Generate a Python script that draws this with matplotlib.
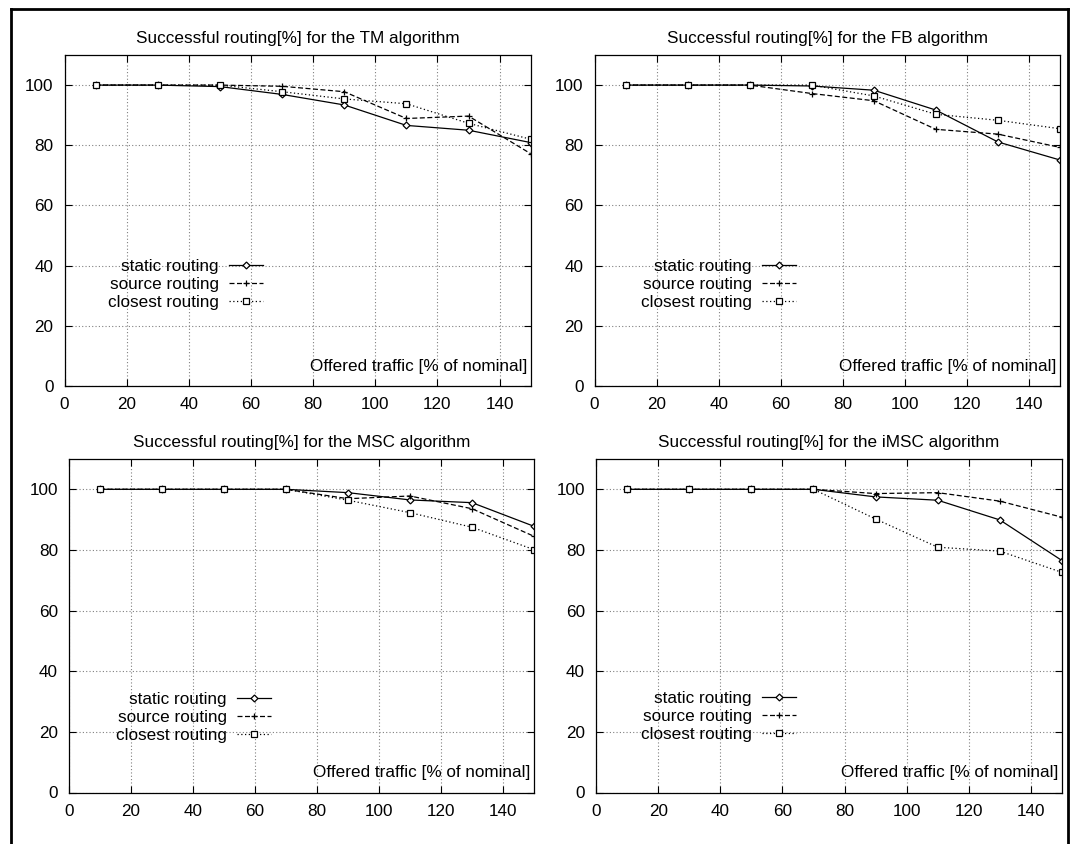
import matplotlib
matplotlib.use("Agg")
import matplotlib.pyplot as plt
from matplotlib.lines import Line2D

plt.rcParams['font.family'] = ['Liberation Sans', 'DejaVu Sans']

traffic = [10, 30, 50, 70, 90, 110, 130, 150]

tm_static = [100, 100, 99.5, 96.9, 93.4, 86.6, 85.0, 80.9]
tm_source = [100, 100, 100, 99.6, 97.8, 88.9, 89.7, 77.2]
tm_closest = [100, 100, 100, 97.8, 95.4, 93.8, 87.3, 82.0]

fb_static = [100, 100, 100, 99.7, 98.3, 91.7, 81.1, 75.1]
fb_source = [100, 100, 100, 97.2, 94.8, 85.3, 83.7, 79.3]
fb_closest = [100, 100, 100, 100, 96.4, 90.3, 88.3, 85.5]

msc_static = [100, 100, 100, 100, 98.9, 96.5, 95.6, 87.8]
msc_source = [100, 100, 100, 100, 96.9, 97.8, 93.6, 84.5]
msc_closest = [100, 100, 100, 100, 96.4, 92.3, 87.5, 80.1]

imsc_static = [100, 100, 100, 100, 97.5, 96.4, 89.9, 76.5]
imsc_source = [100, 100, 100, 100, 98.6, 98.9, 96.1, 90.8]
imsc_closest = [100, 100, 100, 100, 90.2, 80.9, 79.6, 72.6]

titles = ["Successful routing[%] for the TM algorithm",
          "Successful routing[%] for the FB algorithm",
          "Successful routing[%] for the MSC algorithm",
          "Successful routing[%] for the iMSC algorithm"]
series_labels = ["static routing", "source routing", "closest routing"]
xlabel = "Offered traffic [% of nominal]"
xticks = [0, 20, 40, 60, 80, 100, 120, 140]
yticks = [0, 20, 40, 60, 80, 100]

panels = [
    (tm_static, tm_source, tm_closest),
    (fb_static, fb_source, fb_closest),
    (msc_static, msc_source, msc_closest),
    (imsc_static, imsc_source, imsc_closest),
]

W, H = 1070, 844
fig = plt.figure(figsize=(W / 100, H / 100), dpi=100)

# axes boxes in pixels: left, top, right, bottom
boxes = [
    (64.5, 55, 530.7, 386),
    (594.5, 55, 1060, 386),
    (69, 459, 534, 792.5),
    (596, 459, 1062, 792.5),
]
# legend anchor (pixel x of right end of samples, pixel y of first row top)
leg_anchor = [
    (263, 259),
    (796, 259),
    (271, 692),
    (796, 691),
]

styles = [
    dict(linestyle='-', marker='D', markersize=3.5, markerfacecolor='white'),
    dict(linestyle=(0, (4, 2)), marker='+', markersize=5),
    dict(linestyle=(0, (1, 2)), marker='s', markersize=5, markerfacecolor='white'),
]

fs = 12.3
for i, (box, data) in enumerate(zip(boxes, panels)):
    l, t, r, b = box
    ax = fig.add_axes([l / W, 1 - b / H, (r - l) / W, (b - t) / H])
    handles = []
    for vals, st, lab in zip(data, styles, series_labels):
        h, = ax.plot(traffic, vals, color='black', linewidth=0.9,
                     markeredgewidth=0.9, label=lab, **st)
        handles.append(h)
    ax.set_xlim(0, 150)
    ax.set_ylim(0, 110)
    ax.set_xticks(xticks)
    ax.set_yticks(yticks)
    ax.tick_params(direction='in', length=5, width=0.8, top=True, right=True,
                   labelsize=fs, pad=8, colors='black')
    ax.grid(True, color='0.5', linestyle=(0, (1, 2)), linewidth=0.8)
    for sp in ax.spines.values():
        sp.set_linewidth(0.9)
    ax.set_title(titles[i], fontsize=fs, pad=9)
    ax.text(0.993, 0.06, xlabel, transform=ax.transAxes, ha='right',
            va='center', fontsize=fs)
    ax_x, ax_y = leg_anchor[i]
    ax.legend(handles=handles, loc='upper right',
              bbox_to_anchor=((ax_x - l) / (r - l), (b - ax_y) / (b - t)),
              bbox_transform=ax.transAxes, frameon=False, markerfirst=False,
              numpoints=1, handlelength=2.0, handletextpad=0.6,
              labelspacing=0.17, fontsize=fs, borderpad=0, borderaxespad=0)

# outer frame
frame_kw = dict(color='black', linewidth=2, transform=fig.transFigure)
fig.add_artist(Line2D([11 / W, 11 / W], [0, 1 - 8.5 / H], **frame_kw))
fig.add_artist(Line2D([11 / W, 1067.5 / W], [1 - 8.5 / H, 1 - 8.5 / H], **frame_kw))
fig.add_artist(Line2D([1067.5 / W, 1067.5 / W], [0, 1 - 8.5 / H], **frame_kw))

fig.savefig("out.png", dpi=100)
